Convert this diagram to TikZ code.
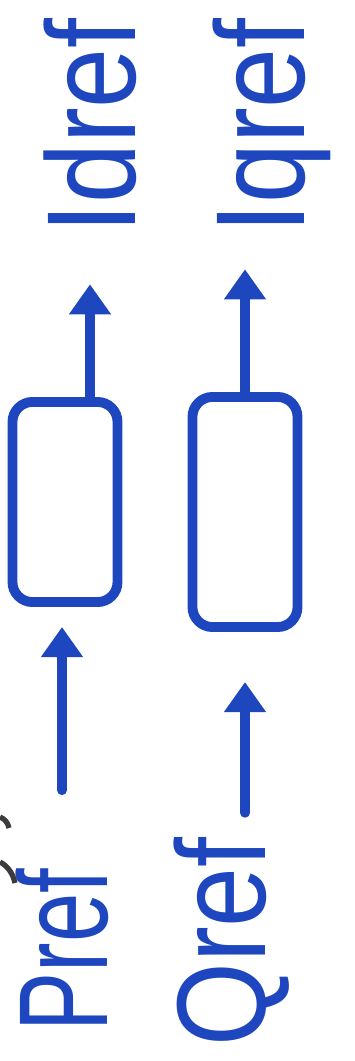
\documentclass[tikz,border=0pt]{standalone}
\usepackage{fontspec}
\setmainfont{Liberation Sans}
\usetikzlibrary{arrows.meta}
\definecolor{penblue}{RGB}{30,70,190}
\definecolor{pengray}{RGB}{60,60,60}

\begin{document}
\begin{tikzpicture}[x=0.01cm, y=-0.01cm,
  hand/.style={penblue, font=\fontsize{36}{36}\selectfont, rotate=90, xscale=#1, transform shape, inner sep=0pt},
  hand/.default=0.7,
  block/.style={draw=penblue, line width=2.8pt, rounded corners=2mm, minimum width=1.05cm},
  link/.style={penblue, line width=2.8pt, line cap=round, -{Triangle[length=3mm,width=4mm]}}]
  \useasboundingbox (0,0) rectangle (354,1061);
  % Inputs (bottom)
  \node[hand] (pref) at (62,950) {Pref};
  \node[hand=0.85] (qref) at (232,942) {Qref};
  % Controllers
  \node[block, minimum height=2.0cm] (boxp) at (65,502) {};
  \node[block, minimum height=2.3cm] (boxq) at (245,512) {};
  % Outputs (top)
  \node[hand=0.85] (idref) at (90,126) {Idref};
  \node[hand=0.85] (iqref) at (272,126) {Iqref};
  % Arrows
  \draw[link, shorten <=7.8mm, shorten >=2mm] (pref.east) -- (pref.east |- boxp.south);
  \draw[link, shorten >=5mm] (boxp.north -| idref) -- (idref.west);
  \draw[link, shorten <=2.4mm, shorten >=5mm] (qref.east -| boxq) -- (boxq.south);
  \draw[link, shorten >=3.5mm] (boxq.north) -- (boxq.north |- iqref.west);
  % Cut-off marks at the left edge
  \draw[pengray, line width=1.5pt] (0,817) .. controls (5,819) and (8,823) .. (9,828);
  \draw[pengray, line width=1.5pt] (0,862) .. controls (8,866) and (13,874) .. (15,883);
\end{tikzpicture}
\end{document}
